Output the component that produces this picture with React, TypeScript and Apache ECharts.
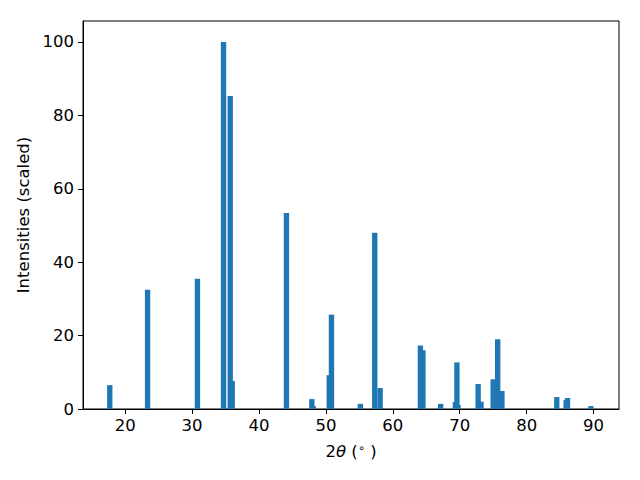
import React, { useEffect, useRef } from "react";
import * as echarts from "echarts";

const twoTheta = [
  17.7, 23.35, 30.8, 34.7, 35.7, 36.0, 44.1, 47.9, 48.1, 50.5, 50.83, 55.15,
  57.3, 58.1, 64.12, 64.5, 67.15, 69.35, 69.58, 69.75, 72.75, 73.18, 75.0,
  75.67, 76.3, 84.5, 85.9, 86.1, 89.6,
];
const intensities = [
  6.5, 32.5, 35.5, 100, 85.3, 7.6, 53.4, 2.7, 0.8, 9.2, 25.7, 1.4, 48, 5.7,
  17.3, 16, 1.4, 1.9, 12.7, 1.1, 6.8, 2, 8.1, 19, 4.9, 3.25, 2.4, 3, 0.8,
];
const xTicks = [20, 30, 40, 50, 60, 70, 80, 90];
const yTicks = [0, 20, 40, 60, 80, 100];

const BAR_W = 0.8;
const FONT = "'DejaVu Sans', sans-serif";

export default function App() {
  const ref = useRef<HTMLDivElement>(null);
  useEffect(() => {
    if (!ref.current) return;
    const chart = echarts.init(ref.current, undefined, { renderer: "svg" });
    const data = twoTheta.map((x, i) => [x, intensities[i]]);
    chart.setOption({
      animation: false,
      backgroundColor: "#ffffff",
      grid: {
        left: 83,
        right: 21,
        top: 21,
        bottom: 71,
        show: true,
        borderColor: "#000",
        borderWidth: 1,
        containLabel: false,
      },
      xAxis: {
        type: "value",
        min: 13.7,
        max: 93.8,
        name: "{n|2}{i|θ} ({s|∘} )",
        nameLocation: "middle",
        nameGap: 33,
        nameTextStyle: {
          fontFamily: FONT,
          fontSize: 16.5,
          color: "#000",
          rich: {
            n: { fontFamily: FONT, fontSize: 16.5, color: "#000" },
            i: { fontFamily: FONT, fontSize: 16.5, fontStyle: "italic", color: "#000" },
            s: { fontFamily: FONT, fontSize: 11.5, color: "#000", verticalAlign: "top", padding: [0, 0, 6, 0] },
          },
        },
        axisLine: { show: true, onZero: false, lineStyle: { color: "#000", width: 1 } },
        axisTick: { show: true, length: 5, customValues: xTicks, lineStyle: { color: "#000" } },
        axisLabel: {
          show: true,
          customValues: xTicks,
          margin: 8,
          fontFamily: FONT,
          fontSize: 16.5,
          color: "#000",
        },
        splitLine: { show: false },
      },
      yAxis: {
        type: "value",
        min: 0,
        max: 105.7,
        name: "Intensities (scaled)",
        nameLocation: "middle",
        nameGap: 47,
        nameTextStyle: { fontFamily: FONT, fontSize: 16.5, color: "#000" },
        axisLine: { show: true, onZero: false, lineStyle: { color: "#000", width: 1 } },
        axisTick: { show: true, length: 5, customValues: yTicks, lineStyle: { color: "#000" } },
        axisLabel: {
          show: true,
          customValues: yTicks,
          margin: 9,
          fontFamily: FONT,
          fontSize: 16.5,
          color: "#000",
        },
        splitLine: { show: false },
      },
      series: [
        {
          type: "custom",
          data,
          encode: { x: 0, y: 1 },
          renderItem: (params: any, api: any) => {
            const x = api.value(0);
            const y = api.value(1);
            const p0 = api.coord([x - BAR_W / 2, y]);
            const p1 = api.coord([x + BAR_W / 2, 0]);
            return {
              type: "rect",
              shape: { x: p0[0], y: p0[1], width: p1[0] - p0[0], height: p1[1] - p0[1] },
              style: { fill: "#1f77b4" },
            };
          },
        },
      ],
    });
    return () => chart.dispose();
  }, []);
  return (
    <div
      ref={ref}
      style={{ position: "absolute", left: 0, top: 0, width: 640, height: 480 }}
    />
  );
}
